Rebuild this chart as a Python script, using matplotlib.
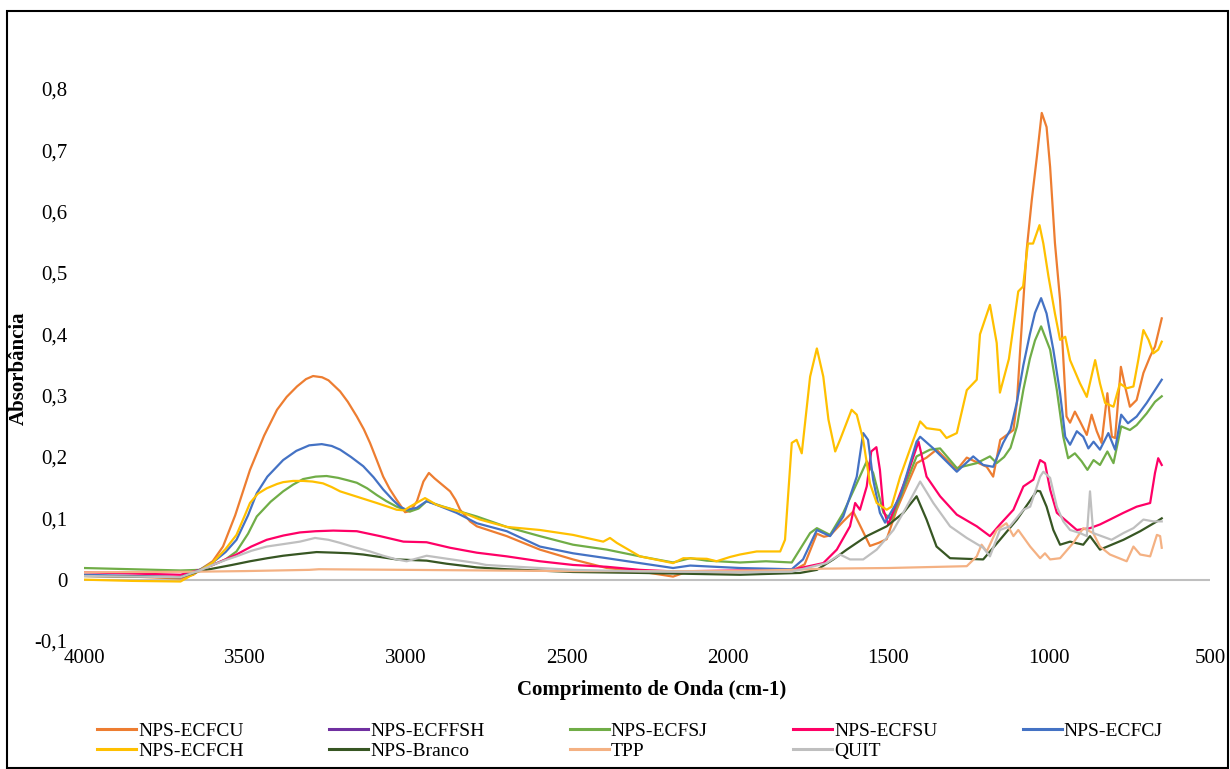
import numpy as np
import matplotlib
matplotlib.use('Agg')
import matplotlib.pyplot as plt
from matplotlib.patches import Rectangle
from matplotlib.lines import Line2D

plt.rcParams['font.family'] = ['Liberation Serif', 'DejaVu Serif']

# Wavenumber (cm-1) / absorbance
cu_wn = [4000, 3850, 3700, 3660, 3640, 3600, 3568, 3530, 3484, 3440, 3400, 3370, 3338, 3310, 3288, 3260,
         3240, 3204, 3180, 3152, 3130, 3111, 3090, 3070, 3050, 3028, 3002, 2985, 2965, 2945, 2928, 2910,
         2894, 2862, 2845, 2831, 2800, 2779, 2686, 2583, 2480, 2375, 2272, 2169, 2130, 2000, 1900,
         1800, 1760, 1722, 1700, 1681, 1640, 1609, 1580, 1557, 1530, 1505, 1474, 1412, 1381, 1350, 1287,
         1256, 1194, 1174, 1152, 1111, 1100, 1090, 1070, 1054, 1038, 1023, 1008, 997, 982, 966, 958, 946,
         935, 920, 904, 883, 868, 852, 837, 819, 805, 795, 777, 764, 749, 728, 707, 686, 671, 650]
cu_abs = [0.006, 0.005, 0.002, 0.008, 0.016, 0.030, 0.054, 0.105, 0.179, 0.235, 0.277, 0.298, 0.315, 0.327,
          0.332, 0.330, 0.325, 0.307, 0.290, 0.266, 0.245, 0.223, 0.195, 0.168, 0.148, 0.130, 0.110, 0.112,
          0.128, 0.160, 0.174, 0.165, 0.158, 0.144, 0.130, 0.114, 0.095, 0.087, 0.071, 0.049, 0.033, 0.019,
          0.0135, 0.005, 0.012, 0.012, 0.013, 0.014, 0.025, 0.075, 0.070, 0.072, 0.095, 0.111, 0.080, 0.055,
          0.060, 0.066, 0.114, 0.190, 0.199, 0.212, 0.179, 0.199, 0.184, 0.168, 0.228, 0.244, 0.290, 0.375,
          0.537, 0.619, 0.690, 0.761, 0.738, 0.673, 0.549, 0.456, 0.380, 0.266, 0.256, 0.274, 0.258, 0.236,
          0.269, 0.242, 0.223, 0.304, 0.233, 0.231, 0.347, 0.315, 0.282, 0.293, 0.337, 0.364, 0.380, 0.426]

ffsh_wn = []
ffsh_abs = []

sj_wn = [4000, 3850, 3700, 3640, 3600, 3560, 3526, 3490, 3463, 3420, 3381, 3350, 3319, 3280, 3246, 3210,
         3180, 3152, 3120, 3090, 3060, 3028, 2987, 2960, 2935, 2883,
         2779, 2686, 2583, 2480, 2375, 2272, 2169, 2116, 2064, 1961, 1880, 1800, 1743, 1722, 1681, 1640,
         1598, 1567, 1547, 1515, 1490, 1412, 1370, 1339, 1287, 1225, 1184, 1163, 1140, 1120, 1100, 1080,
         1060, 1044, 1025, 997, 976, 956, 941, 920, 899, 881, 862, 842, 819, 800, 776, 749, 728, 697, 671, 650]
sj_abs = [0.019, 0.017, 0.015, 0.016, 0.024, 0.033, 0.046, 0.075, 0.103, 0.127, 0.144, 0.155, 0.164, 0.168,
          0.169, 0.166, 0.162, 0.158, 0.149, 0.138, 0.128, 0.119, 0.111, 0.116, 0.128, 0.119,
          0.103, 0.086, 0.071, 0.057, 0.049, 0.038, 0.028, 0.035, 0.031, 0.028, 0.030, 0.028,
          0.076, 0.084, 0.073, 0.109, 0.157, 0.193, 0.174, 0.109, 0.098, 0.201, 0.212, 0.214, 0.182, 0.190,
          0.201, 0.190, 0.200, 0.215, 0.250, 0.310, 0.360, 0.390, 0.413, 0.375, 0.309, 0.233, 0.198, 0.206,
          0.193, 0.179, 0.195, 0.187, 0.209, 0.190, 0.250, 0.244, 0.252, 0.271, 0.290, 0.299]

su_wn = [4000, 3850, 3700, 3640, 3600, 3560, 3526, 3480, 3432, 3380, 3329, 3280, 3225, 3152, 3080, 3007,
         2935, 2862, 2779, 2686, 2583,
         2480, 2375, 2272, 2169, 1961, 1800, 1702, 1660, 1619, 1603, 1588, 1567, 1553, 1537, 1526, 1515,
         1500, 1443, 1406, 1381, 1339, 1287, 1225, 1184, 1153, 1111, 1080, 1049, 1028, 1013, 997, 976, 945,
         914, 873, 842, 811, 769, 728, 686, 671, 661, 650]
su_abs = [0.012, 0.010, 0.008, 0.016, 0.024, 0.033, 0.041, 0.054, 0.065, 0.072, 0.077, 0.079, 0.080, 0.079,
          0.071, 0.062, 0.061, 0.052, 0.044, 0.038, 0.030,
          0.024, 0.021, 0.016, 0.0135, 0.015, 0.016, 0.027, 0.049, 0.087, 0.125, 0.114, 0.152,
          0.209, 0.216, 0.179, 0.114, 0.090, 0.168, 0.225, 0.168, 0.136, 0.106, 0.087, 0.071, 0.090, 0.114,
          0.152, 0.163, 0.195, 0.190, 0.147, 0.109, 0.095, 0.081, 0.084, 0.090, 0.098, 0.109, 0.119, 0.125,
          0.174, 0.198, 0.187]

cj_wn = [4000, 3850, 3700, 3640, 3600, 3560, 3526, 3490, 3463, 3430, 3381, 3340, 3300, 3261, 3230, 3204,
         3170, 3132, 3100, 3070, 3040, 3018, 2998, 2966, 2935,
         2904, 2842, 2779, 2686, 2583, 2480, 2375, 2272, 2169, 2116, 1961, 1800, 1765, 1722, 1681, 1640,
         1598, 1578, 1563, 1547, 1526, 1510, 1463, 1412, 1401, 1360, 1287, 1236, 1205, 1174, 1143, 1120,
         1100, 1080, 1060, 1044, 1025, 1008, 987, 966, 950, 935, 914, 894, 878, 862, 842, 816, 795, 776,
         755, 728, 697, 671, 650]
cj_abs = [0.008, 0.006, 0.004, 0.016, 0.028, 0.045, 0.065, 0.105, 0.141, 0.168, 0.195, 0.210, 0.219, 0.221,
          0.218, 0.212, 0.200, 0.185, 0.167, 0.147, 0.130, 0.119, 0.114, 0.117, 0.128,
          0.122, 0.109, 0.092, 0.079, 0.054, 0.043, 0.035, 0.027, 0.019, 0.023, 0.019, 0.017,
          0.033, 0.081, 0.071, 0.103, 0.168, 0.239, 0.228, 0.163, 0.109, 0.093, 0.136, 0.225, 0.233, 0.214,
          0.176, 0.201, 0.187, 0.184, 0.223, 0.245, 0.290, 0.350, 0.400, 0.435, 0.459, 0.434, 0.375, 0.304,
          0.233, 0.220, 0.242, 0.233, 0.214, 0.225, 0.212, 0.239, 0.212, 0.269, 0.255, 0.266, 0.288, 0.309,
          0.326]

ch_wn = [4000, 3850, 3700, 3640, 3600, 3560, 3526, 3500, 3484, 3460, 3432, 3400, 3381, 3350, 3319, 3290,
         3257, 3230, 3204, 3150, 3090, 3050, 3028, 3005, 2987, 2940, 2904,
         2821, 2769, 2686, 2583, 2480, 2386, 2365, 2344, 2272, 2169, 2137, 2064, 2034, 1992, 1961, 1909,
         1836, 1821, 1800, 1785, 1769, 1743, 1722, 1702, 1686, 1665, 1650, 1614, 1598, 1578, 1557, 1536,
         1505, 1490, 1463, 1422, 1401, 1381, 1339, 1319, 1287, 1256, 1225, 1215, 1184, 1163, 1153, 1125,
         1096, 1081, 1066, 1050, 1030, 1018, 1002, 982, 966, 950, 935, 904, 883, 857, 842, 826, 800, 780,
         759, 738, 723, 707, 691, 676, 661, 650]
ch_abs = [0.000, -0.002, -0.003, 0.015, 0.028, 0.050, 0.073, 0.105, 0.125, 0.140, 0.149, 0.156, 0.159,
          0.161, 0.161, 0.160, 0.157, 0.151, 0.144, 0.135, 0.125, 0.118, 0.114, 0.113, 0.119, 0.133, 0.122,
          0.109, 0.098, 0.086, 0.081, 0.073, 0.062, 0.068, 0.060, 0.038, 0.027, 0.035,
          0.034, 0.030, 0.037, 0.041, 0.046, 0.046, 0.065, 0.223, 0.228, 0.206, 0.331, 0.377, 0.331, 0.261,
          0.209, 0.228, 0.277, 0.269, 0.228, 0.157, 0.125, 0.114, 0.119, 0.168, 0.228, 0.258, 0.247, 0.244,
          0.231, 0.239, 0.309, 0.326, 0.400, 0.448, 0.386, 0.305, 0.360, 0.470, 0.478, 0.548, 0.548, 0.578,
          0.548, 0.494, 0.434, 0.391, 0.396, 0.358, 0.320, 0.298, 0.358, 0.320, 0.288, 0.282, 0.320, 0.312,
          0.315, 0.358, 0.407, 0.391, 0.369, 0.375, 0.388]

br_wn = [4000, 3850, 3700, 3640, 3600, 3540, 3484, 3430, 3381, 3330, 3277, 3220, 3173, 3132, 3028, 2935,
         2873, 2779, 2686, 2480, 2272,
         1961, 1774, 1722, 1671, 1629, 1567, 1505, 1453, 1412, 1381, 1350, 1308, 1205, 1153, 1100, 1038,
         1028, 1008, 987, 966, 935, 894, 873, 842, 769, 717, 665, 650]
br_abs = [0.006, 0.005, 0.004, 0.014, 0.018, 0.024, 0.030, 0.035, 0.039, 0.042, 0.045, 0.044, 0.043, 0.041,
          0.033, 0.031, 0.026, 0.020, 0.017,
          0.0125, 0.011, 0.008, 0.011, 0.016, 0.033, 0.049, 0.071, 0.087, 0.109, 0.136, 0.098, 0.054, 0.035,
          0.033, 0.065, 0.098, 0.145, 0.144, 0.119, 0.081, 0.057, 0.062, 0.057, 0.071, 0.049, 0.065, 0.079,
          0.095, 0.100]

tpp_wn = [4000, 3650, 3500, 3300, 3270, 3000, 2500, 2000, 1800, 1700, 1500, 1256, 1225, 1210, 1194, 1163,
          1133, 1111, 1096, 1059, 1028, 1013, 997, 966, 925, 894, 863, 842, 811, 759, 738, 717, 686, 665,
          655, 650]
tpp_abs = [0.012, 0.013, 0.014, 0.016, 0.017, 0.016, 0.014, 0.014, 0.016, 0.018, 0.019, 0.022, 0.038, 0.057,
           0.046, 0.081, 0.092, 0.071, 0.081, 0.054, 0.035, 0.043, 0.033, 0.035, 0.060, 0.084, 0.076, 0.054,
           0.041, 0.030, 0.054, 0.041, 0.038, 0.073, 0.071, 0.052]

quit_wn = [4000, 3850, 3700, 3640, 3600, 3560, 3526, 3480, 3432, 3380, 3329, 3282, 3240, 3204, 3160, 3111,
           3070, 3028, 2997, 2935, 2883, 2779, 2750,
           2686, 2480, 2272, 1961, 1800, 1692, 1650, 1619, 1578, 1536, 1484, 1443, 1401, 1360, 1308, 1256,
           1205, 1184, 1153, 1122, 1080, 1059, 1028, 1018, 997, 976, 956, 935, 904, 883, 873, 863, 806, 769,
           738, 707, 676, 650]
quit_abs = [0.006, 0.005, 0.004, 0.015, 0.024, 0.032, 0.038, 0.047, 0.054, 0.058, 0.062, 0.068, 0.065,
            0.060, 0.053, 0.046, 0.039, 0.033, 0.030, 0.039, 0.035, 0.027, 0.024,
            0.022, 0.016, 0.0135, 0.012, 0.013, 0.027, 0.041, 0.033, 0.033, 0.049, 0.081,
            0.119, 0.160, 0.125, 0.087, 0.068, 0.052, 0.038, 0.081, 0.087, 0.114, 0.119, 0.168, 0.176, 0.166,
            0.119, 0.095, 0.081, 0.076, 0.071, 0.144, 0.076, 0.065, 0.076, 0.084, 0.098, 0.095, 0.095]

series = [
    ('NPS-ECFCU', cu_wn, cu_abs, '#ED7D31'),
    ('NPS-ECFFSH', ffsh_wn, ffsh_abs, '#7030A0'),
    ('NPS-ECFSJ', sj_wn, sj_abs, '#70AD47'),
    ('NPS-ECFSU', su_wn, su_abs, '#FF0066'),
    ('NPS-ECFCJ', cj_wn, cj_abs, '#4472C4'),
    ('NPS-ECFCH', ch_wn, ch_abs, '#FFC000'),
    ('NPS-Branco', br_wn, br_abs, '#375623'),
    ('TPP', tpp_wn, tpp_abs, '#F4B183'),
    ('QUIT', quit_wn, quit_abs, '#BFBFBF'),
]

fig = plt.figure(figsize=(12.3, 7.69), dpi=100)
ax = fig.add_axes([84 / 1230, 128 / 769, 1126 / 1230, 552 / 769])

handles = {}
for name, wn, ab, col in series:
    line, = ax.plot(wn, ab, color=col, lw=1.6, label=name)
    handles[name] = line

ax.axhline(0, color='#BFBFBF', lw=1.5, zorder=0)
ax.set_xlim(4000, 500)
ax.set_ylim(-0.1, 0.8)
for sp in ax.spines.values():
    sp.set_visible(False)

yt = np.round(np.arange(-0.1, 0.81, 0.1), 1)
ax.set_yticks(yt)
ax.set_yticklabels(['0' if v == 0 else f'{v:.1f}'.replace('.', ',') for v in yt])
ax.set_xticks(np.arange(4000, 499, -500))
ax.tick_params(axis='both', length=0, labelsize=15)
ax.tick_params(axis='x', pad=6)
ax.tick_params(axis='y', pad=12)

fig.text(652 / 1230, 1 - 690 / 769, 'Comprimento de Onda (cm-1)', ha='center', va='center',
         fontsize=15, fontweight='bold')
fig.text(19 / 1230, 1 - 368 / 769, 'Absorbância', ha='center', va='center', rotation=90,
         fontsize=15, fontweight='bold')

# column-wise fill so it reads row by row like the original
order = ['NPS-ECFCU', 'NPS-ECFCH', 'NPS-ECFFSH', 'NPS-Branco', 'NPS-ECFSJ', 'TPP',
         'NPS-ECFSU', 'QUIT', 'NPS-ECFCJ']
leg_handles = [Line2D([], [], color=handles[n].get_color(), lw=2.2) for n in order]
fig.legend(leg_handles, order, ncol=5, loc='center', bbox_to_anchor=(630 / 1230, 1 - 741 / 769),
           frameon=False, fontsize=14, handlelength=2.0, handletextpad=0.1, columnspacing=4.4,
           labelspacing=0.1)

fig.patches.append(Rectangle((7 / 1230, 0.001), 1221 / 1230, 757 / 769, transform=fig.transFigure,
                             fill=False, ec='black', lw=1.5))

fig.savefig('out.png', dpi=100)
